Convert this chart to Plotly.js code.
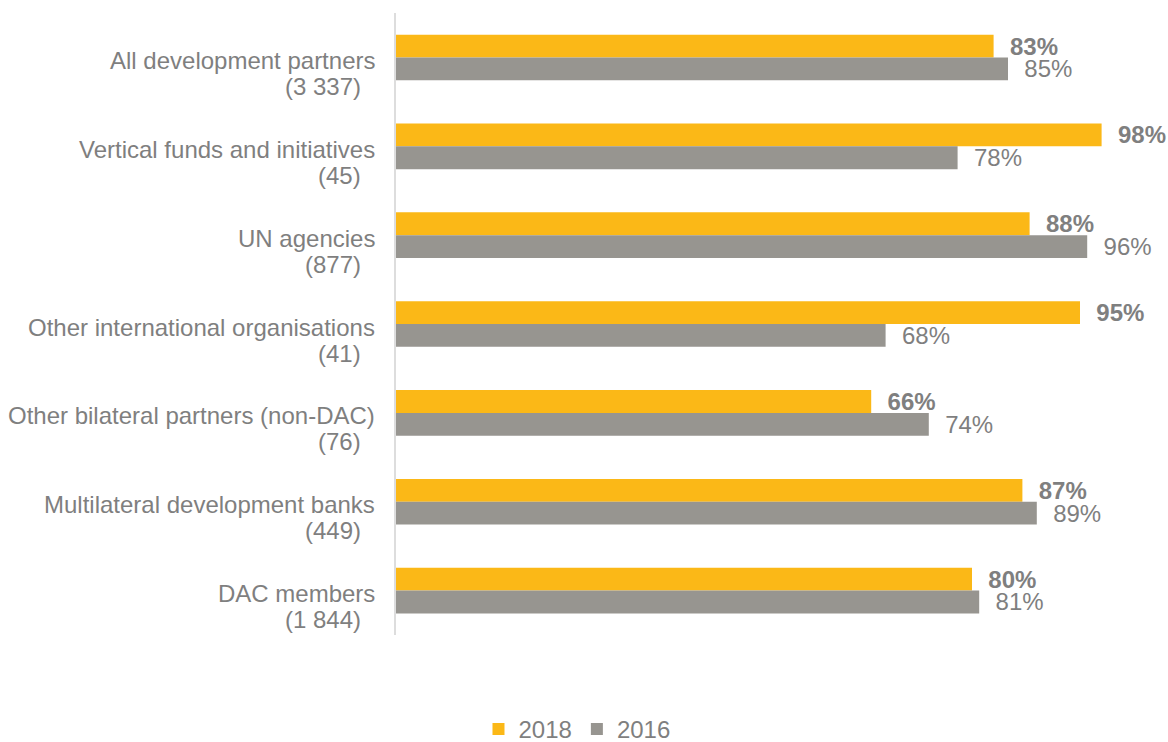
<!DOCTYPE html>
<html>
<head>
<meta charset="utf-8">
<script src="https://cdn.plot.ly/plotly-3.0.1.min.js"></script>
<style>html,body{margin:0;padding:0;background:#fff;}#chart{width:1168px;height:742px;}</style>
</head>
<body>
<div id="chart"></div>
<script>
var categories = [
  "All development partners",
  "Vertical funds and initiatives",
  "UN agencies",
  "Other international organisations",
  "Other bilateral partners (non-DAC)",
  "Multilateral development banks",
  "DAC members"
];
var counts = ["(3 337)", "(45)", "(877)", "(41)", "(76)", "(449)", "(1 844)"];
var values2018 = [83, 98, 88, 95, 66, 87, 80];
var values2016 = [85, 78, 96, 68, 74, 89, 81];
var seriesNames = ["2018", "2016"];

var textGrey = "#7F7F7F";
var fontFam = "Liberation Sans, Arial, sans-serif";

var traces = [
  {
    type: "bar", orientation: "h", name: seriesNames[0],
    y: categories, x: values2018,
    marker: {color: "#FBB817"},
    texttemplate: "\u00a0\u00a0%{x}%", textposition: "outside",
    textfont: {family: fontFam, size: 24, color: textGrey, weight: "bold"},
    constraintext: "none", cliponaxis: false, hoverinfo: "skip"
  },
  {
    type: "bar", orientation: "h", name: seriesNames[1],
    y: categories, x: values2016,
    marker: {color: "#979590"},
    texttemplate: "\u00a0\u00a0%{x}%", textposition: "outside",
    textfont: {family: fontFam, size: 24, color: textGrey},
    constraintext: "none", cliponaxis: false, hoverinfo: "skip"
  }
];

var annotations = [];
categories.forEach(function (c, i) {
  annotations.push({
    xref: "paper", yref: "y", x: 0, y: c, xanchor: "right", yanchor: "middle",
    xshift: -19, yshift: -3, text: c, showarrow: false,
    font: {family: fontFam, size: 24, color: textGrey}
  });
  annotations.push({
    xref: "paper", yref: "y", x: 0, y: c, xanchor: "right", yanchor: "middle",
    xshift: -33, yshift: -29, text: counts[i], showarrow: false,
    font: {family: fontFam, size: 24, color: textGrey}
  });
});

var layout = {
  width: 1168, height: 742,
  margin: {l: 396, r: 52, t: 13, b: 107},
  paper_bgcolor: "#ffffff", plot_bgcolor: "#ffffff",
  barmode: "group", bargap: 0.486, bargroupgap: 0,
  font: {family: fontFam, size: 24, color: textGrey},
  xaxis: {range: [0, 100], showgrid: false, zeroline: false, showticklabels: false, showline: false, fixedrange: true},
  yaxis: {autorange: "reversed", showticklabels: false, showgrid: false, zeroline: false,
          showline: true, linecolor: "#DDDDDD", linewidth: 2, ticks: "", fixedrange: true},
  showlegend: true,
  legend: {orientation: "h", xref: "container", yref: "container", x: 0.494, xanchor: "center",
           y: 0.017, yanchor: "middle", font: {family: fontFam, size: 24, color: textGrey},
           itemwidth: 30, traceorder: "normal"},
  annotations: annotations
};

Plotly.newPlot("chart", traces, layout, {displayModeBar: false, staticPlot: true});
</script>
</body>
</html>
